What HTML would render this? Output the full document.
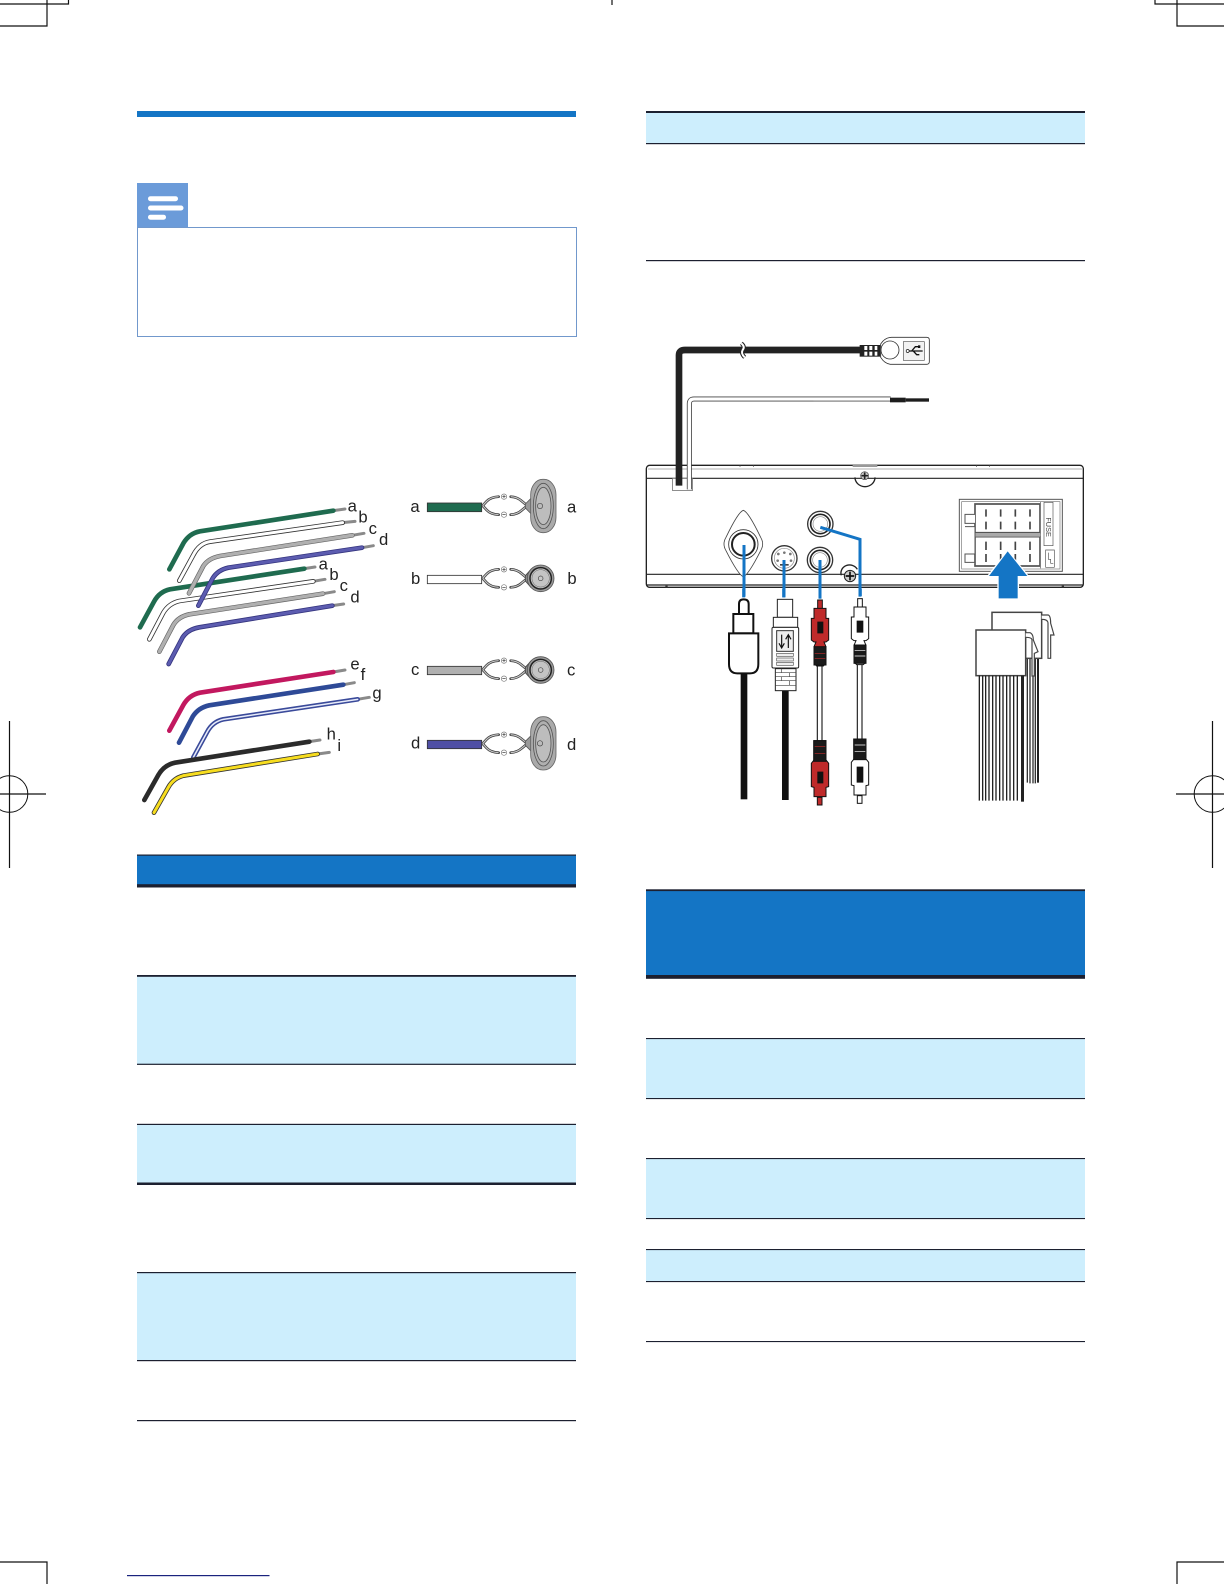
<!DOCTYPE html>
<html lang="en"><head><meta charset="utf-8"><title>Wiring diagram</title>
<style>html,body{margin:0;padding:0;background:#fff}svg{display:block;position:absolute;left:0;top:0}text{font-family:"Liberation Sans",sans-serif;fill:#222}</style></head><body>
<svg width="1224" height="1584" viewBox="0 0 1224 1584" xmlns="http://www.w3.org/2000/svg">
<defs>
<g id="yw">
<path d="M1088,0L1100,-13Q1112,-26 1136,-27M1088,0L1100,13Q1112,26 1136,27M1172,-27Q1192,-26 1205,-14L1222,0M1172,27Q1192,26 1205,14L1222,0" fill="none" stroke="#3a3a3a" stroke-width="8" stroke-linecap="round"/>
<path d="M1088,0L1100,-13Q1112,-26 1136,-27M1088,0L1100,13Q1112,26 1136,27M1172,-27Q1192,-26 1205,-14L1222,0M1172,27Q1192,26 1205,14L1222,0" fill="none" stroke="#c8c8c8" stroke-width="3.500"/>
<circle cx="1152" cy="-27" r="8" fill="#fff" stroke="#777" stroke-width="2"/><path d="M1147,-27h10M1152,-32v10" stroke="#333" stroke-width="2"/>
<circle cx="1152" cy="27" r="8" fill="#fff" stroke="#777" stroke-width="2"/><path d="M1147,27h10" stroke="#333" stroke-width="2"/>
</g>
<g id="spo">
<path d="M-54,-6L-30,-30V30L-54,6Z" fill="#999" stroke="#555" stroke-width="2.500"/>
<rect x="-38" y="-80" width="76" height="160" rx="36" ry="46" fill="#aaa" stroke="#666" stroke-width="2.500"/>
<ellipse cx="0" cy="0" rx="30" ry="68" fill="#b0b0b0" stroke="#555" stroke-width="2.500"/>
<ellipse cx="0" cy="0" rx="23" ry="56" fill="#bdbdbd" stroke="#555" stroke-width="2.500"/>
<circle cx="-10" cy="0" r="8" fill="#bbb" stroke="#444" stroke-width="2"/>
</g>
<g id="spr">
<path d="M-46,-8L-30,-26V26L-46,8Z" fill="#888" stroke="#444" stroke-width="2.500"/>
<circle r="40" fill="#999" stroke="#555" stroke-width="2.500"/>
<circle r="32" fill="#bdbdbd" stroke="#222" stroke-width="4.500"/>
<circle r="26" fill="#c4c4c4" stroke="#666" stroke-width="1.500"/>
<circle r="7" fill="#c8c8c8" stroke="#444" stroke-width="2"/>
</g>
<g id="rca-top">
<rect x="-7" y="30" width="14" height="26"/>
<path d="M-18,55H18V85H26V150L18,156H12L18,170V220L10,228H-10L-18,220V170L-12,156H-18L-26,150V85H-18Z"/>
</g>
</defs>

<!-- crop marks -->
<g stroke="#111" stroke-width="1.200" fill="none">
<path d="M0,4H68.500V0M47,0V26H0M612,0V5M1224,4H1155V0M1177,0V26H1224M0,1562H47V1584M1224,1562H1177V1584"/>
<path d="M9.500,721V868M0,794H46M1212.500,721V868M1176,794H1224"/>
<circle cx="9.500" cy="794" r="18.300" stroke-width="1"/><circle cx="1212.500" cy="794" r="18.300" stroke-width="1"/>
</g>
<rect x="127" y="1575" width="142.500" height="1.200" fill="#1a237e"/>

<!-- left heading + note -->
<rect x="137" y="111" width="439" height="6" fill="#1475c5"/>
<rect x="137" y="183" width="51" height="44.500" fill="#6b9bd9"/>
<rect x="148" y="196.200" width="30" height="5" rx="2.500" fill="#fff"/>
<rect x="148" y="205.500" width="35.500" height="5" rx="2.500" fill="#fff"/>
<rect x="148" y="214.700" width="18" height="5" rx="2.500" fill="#fff"/>
<rect x="137.500" y="227.500" width="439" height="109" fill="#fff" stroke="#7198cc" stroke-width="1"/>

<!-- left table -->
<rect x="137" y="855" width="439" height="30" fill="#1475c5"/>
<rect x="137" y="854.500" width="439" height="1.200" fill="#1c2030"/>
<rect x="137" y="884.200" width="439" height="3.300" fill="#1c2030"/>
<g fill="#cdeefd"><rect x="137" y="976" width="439" height="88"/><rect x="137" y="1124" width="439" height="59"/><rect x="137" y="1272" width="439" height="88"/></g>
<g fill="#1c2030"><rect x="137" y="975" width="439" height="1.800"/><rect x="137" y="1063.700" width="439" height="1.200"/><rect x="137" y="1123.800" width="439" height="1.200"/><rect x="137" y="1182.500" width="439" height="2.500"/><rect x="137" y="1272" width="439" height="1.200"/><rect x="137" y="1360" width="439" height="1.200"/><rect x="137" y="1420" width="439" height="1.200"/></g>

<!-- right top table -->
<rect x="646" y="113" width="439" height="30" fill="#cdeefd"/>
<rect x="646" y="111" width="439" height="2" fill="#1c2030"/>
<rect x="646" y="143" width="439" height="1.200" fill="#1c2030"/>
<rect x="646" y="260" width="439" height="1.200" fill="#1c2030"/>

<!-- right bottom table -->
<rect x="646" y="890" width="439" height="85" fill="#1475c5"/>
<rect x="646" y="889.300" width="439" height="1.800" fill="#1c2030"/>
<rect x="646" y="975" width="439" height="3.800" fill="#1c2030"/>
<g fill="#cdeefd"><rect x="646" y="1038" width="439" height="60"/><rect x="646" y="1158" width="439" height="60"/><rect x="646" y="1249" width="439" height="32"/></g>
<g fill="#1c2030"><rect x="646" y="1038" width="439" height="1.100"/><rect x="646" y="1098" width="439" height="1.100"/><rect x="646" y="1158" width="439" height="1.100"/><rect x="646" y="1218" width="439" height="1.100"/><rect x="646" y="1249" width="439" height="1.100"/><rect x="646" y="1281" width="439" height="1.100"/><rect x="646" y="1341" width="439" height="1.100"/></g>

<!-- left wires diagram -->
<g transform="translate(120,460) scale(.33333)">
<g fill="none" stroke-linecap="round" stroke-linejoin="round">
<!-- group 2 -->
<path d="M553,326L585,321M580,364L615,358M609,401L643,395M637,437L671,432" stroke="#8a8a8a" stroke-width="9"/>
<path d="M60,502L102,425Q118,395 150,388L553,326" stroke="#1f6b4f" stroke-width="14"/>
<path d="M88,538L130,458Q147,430 178,423L580,364" stroke="#333" stroke-width="14"/>
<path d="M88,538L130,458Q147,430 178,423L580,364" stroke="#fff" stroke-width="9"/>
<path d="M118,575L160,495Q175,470 208,463L609,401" stroke="#666" stroke-width="14"/>
<path d="M118,575L160,495Q175,470 208,463L609,401" stroke="#b0b0b0" stroke-width="10"/>
<path d="M146,612L188,532Q204,508 238,502L637,437" stroke="#35357f" stroke-width="14"/>
<path d="M146,612L188,532Q204,508 238,502L637,437" stroke="#5c5cb0" stroke-width="9"/>
<!-- group 1 -->
<path d="M640,152L675,147M668,188L705,184M697,226L732,220M726,263L760,257" stroke="#8a8a8a" stroke-width="9"/>
<path d="M148,328L190,250Q208,220 240,214L640,152" stroke="#1f6b4f" stroke-width="14"/>
<path d="M178,362L220,285Q238,250 270,245L668,188" stroke="#333" stroke-width="14"/>
<path d="M178,362L220,285Q238,250 270,245L668,188" stroke="#fff" stroke-width="9"/>
<path d="M207,400L250,318Q265,295 300,288L697,226" stroke="#666" stroke-width="14"/>
<path d="M207,400L250,318Q265,295 300,288L697,226" stroke="#b0b0b0" stroke-width="10"/>
<path d="M235,437L278,355Q293,330 325,323L726,263" stroke="#35357f" stroke-width="14"/>
<path d="M235,437L278,355Q293,330 325,323L726,263" stroke="#5c5cb0" stroke-width="9"/>
<!-- group 3 -->
<path d="M640,636L675,630M670,674L703,668M713,718L748,712M568,845L600,840M593,882L628,877" stroke="#8a8a8a" stroke-width="9"/>
<path d="M148,812L190,735Q207,705 240,698L640,636" stroke="#c2185f" stroke-width="14"/>
<path d="M177,848L218,770Q235,743 268,736L670,674" stroke="#2e4a97" stroke-width="14"/>
<path d="M220,892L262,815Q278,785 310,778L713,718" stroke="#3a4a9a" stroke-width="14"/>
<path d="M220,892L262,815Q278,785 310,778L713,718" stroke="#e8ecfa" stroke-width="4.500"/>
<path d="M73,1020L115,945Q132,915 165,908L568,845" stroke="#2b2b2b" stroke-width="14"/>
<path d="M102,1058L145,982Q160,955 190,947L593,882" stroke="#333" stroke-width="14"/>
<path d="M102,1058L145,982Q160,955 190,947L593,882" stroke="#f7dd1f" stroke-width="9"/>
</g>
<g font-size="50">
<text x="683" y="155">a</text><text x="715" y="188">b</text><text x="746" y="222">c</text><text x="777" y="255">d</text>
<text x="596" y="328">a</text><text x="628" y="360">b</text><text x="659" y="393">c</text><text x="691" y="427">d</text>
<text x="691" y="628">e</text><text x="722" y="660">f</text><text x="757" y="716">g</text><text x="620" y="839">h</text><text x="652" y="873">i</text>
<text x="871" y="156">a</text><text x="873" y="372">b</text><text x="873" y="645">c</text><text x="873" y="866">d</text>
<text x="1341" y="158">a</text><text x="1342" y="372">b</text><text x="1341" y="647">c</text><text x="1341" y="870">d</text>
</g>
<g stroke-width="2.500" stroke="#333">
<rect x="922" y="129" width="163" height="26" fill="#1f6b4f"/>
<rect x="922" y="346" width="163" height="25" fill="#fff"/>
<rect x="922" y="619" width="163" height="25" fill="#b0b0b0"/>
<rect x="922" y="841" width="163" height="25" fill="#4f4fa5"/>
</g>
<use href="#yw" transform="translate(0,137)"/><use href="#yw" transform="translate(0,355)"/><use href="#yw" transform="translate(0,629)"/><use href="#yw" transform="translate(0,851)"/>
<use href="#spo" transform="translate(1270,138)"/><use href="#spo" transform="translate(1270,850)"/>
<use href="#spr" transform="translate(1262,355)"/><use href="#spr" transform="translate(1262,630)"/>
</g>

<!-- head unit diagram -->
<g transform="translate(640,330) scale(.33333)">
<rect x="19" y="406" width="1311" height="366" rx="10" fill="#fff" stroke="#222" stroke-width="4"/>
<path d="M20,445H1329M20,733H1329M20,765H1329" stroke="#222" stroke-width="3.500" fill="none"/>
<path d="M24,417H1326" stroke="#999" stroke-width="2" fill="none"/>
<path d="M300,406v5M340,406v5M1010,406v5M1048,406v5" stroke="#555" stroke-width="2"/>
<rect x="638" y="405" width="74" height="6" fill="#999"/>
<rect x="76" y="767" width="7" height="6" fill="#333"/><rect x="1265" y="767" width="7" height="6" fill="#333"/>
<path d="M645,442A30,28 0 0 0 705,442" fill="none" stroke="#222" stroke-width="4"/>
<circle cx="674" cy="437" r="12" fill="#ccc" stroke="#444" stroke-width="2"/><path d="M664,437h20M674,427v20" stroke="#222" stroke-width="5"/>
<rect x="97" y="445" width="61" height="36" fill="#fff" stroke="#555" stroke-width="2"/>
<!-- cables -->
<path d="M117,467V75Q117,60 135,60H662" fill="none" stroke="#222" stroke-width="20"/>
<path d="M148,478V222Q148,207 162,207H752" fill="none" stroke="#444" stroke-width="15"/>
<path d="M148,478V222Q148,207 162,207H752" fill="none" stroke="#fff" stroke-width="10"/>
<path d="M520,214H752" stroke="#999" stroke-width="3"/>
<rect x="750" y="203" width="47" height="14" fill="#1d1d1d"/><rect x="797" y="205" width="70" height="10" fill="#1d1d1d"/>
<path d="M304,40Q316,50 308,60Q302,70 314,82" fill="none" stroke="#222" stroke-width="12"/>
<path d="M304,40Q316,50 308,60Q302,70 314,82" fill="none" stroke="#fff" stroke-width="6"/>
<rect x="659" y="45" width="62" height="35" fill="#222"/>
<g fill="#fff"><rect x="673" y="48" width="9" height="12"/><rect x="688" y="48" width="9" height="12"/><rect x="673" y="65" width="9" height="12"/><rect x="688" y="65" width="9" height="12"/><rect x="704" y="48" width="8" height="12"/><rect x="704" y="65" width="8" height="12"/></g>
<path d="M722,42Q735,22 755,22H860Q868,22 868,30V95Q868,103 860,103H755Q735,103 722,82Z" fill="#fff" stroke="#333" stroke-width="2.500"/>
<circle cx="750" cy="60" r="27" fill="#fff" stroke="#333" stroke-width="2.500"/>
<rect x="790" y="35" width="63" height="56" fill="#f2f2f2" stroke="#555" stroke-width="2"/>
<path d="M803,63H848M815,63L826,50H838M820,63L830,74H838" fill="none" stroke="#111" stroke-width="4"/>
<rect x="834" y="46" width="7" height="8" fill="#111"/><circle cx="803" cy="63" r="4.500" fill="#fff" stroke="#111" stroke-width="2"/>
<!-- ports -->
<path d="M310,541Q325,545 362,622Q374,642 362,662Q325,735 310,740Q295,735 258,662Q246,642 258,622Q295,545 310,541Z" fill="#fff" stroke="#444" stroke-width="2.500"/>
<circle cx="310" cy="643" r="44" fill="#fff" stroke="#333" stroke-width="2.500"/><circle cx="310" cy="643" r="34" fill="#fff" stroke="#222" stroke-width="6"/>
<circle cx="433" cy="685" r="38" fill="#fff" stroke="#333" stroke-width="4"/><circle cx="433" cy="685" r="30" fill="#fff" stroke="#888" stroke-width="2"/>
<g fill="#777"><circle cx="415" cy="672" r="4"/><circle cx="433" cy="668" r="4"/><circle cx="451" cy="672" r="4"/><circle cx="413" cy="692" r="4"/><circle cx="453" cy="692" r="4"/></g>
<rect x="420" y="702" width="26" height="5" fill="#444"/>
<circle cx="541" cy="582" r="38" fill="#fff" stroke="#333" stroke-width="4"/><circle cx="541" cy="582" r="29" fill="#fff" stroke="#222" stroke-width="5"/><circle cx="541" cy="582" r="22" fill="#fff" stroke="#888" stroke-width="2"/>
<circle cx="540" cy="690" r="38" fill="#fff" stroke="#333" stroke-width="4"/><circle cx="540" cy="690" r="29" fill="#fff" stroke="#222" stroke-width="5"/><circle cx="540" cy="690" r="22" fill="#fff" stroke="#888" stroke-width="2"/>
<path d="M604,736A26,24 0 0 1 652,718" fill="none" stroke="#222" stroke-width="4"/>
<circle cx="630" cy="738" r="17" fill="#ccc" stroke="#222" stroke-width="3"/><path d="M617,738h26M630,725v26" stroke="#111" stroke-width="5"/>
<!-- iso block -->
<rect x="958" y="508" width="309" height="216" fill="#fff" stroke="#555" stroke-width="3"/>
<rect x="965" y="515" width="295" height="202" fill="#fff" stroke="#777" stroke-width="2"/>
<path d="M1005,522H1200V608H1005ZM1005,620H1200V708H1005Z" fill="#fff" stroke="#555" stroke-width="5"/>
<rect x="1005" y="609" width="196" height="11" fill="#aaa"/>
<path d="M1005,522V553H975V580H1005M975,590H1005V672H975V697H1005V708" fill="#fff" stroke="#555" stroke-width="3"/>
<rect x="1200" y="515" width="2.500" height="200" fill="#777"/>
<g stroke="#444" stroke-width="5"><path d="M1038,538v22M1082,538v22M1126,538v22M1170,538v22M1038,575v23M1082,575v23M1126,575v23M1170,575v23M1038,635v25M1082,635v25M1126,635v25M1170,635v25M1038,672v24M1082,672v24M1126,672v24M1170,672v24"/></g>
<rect x="1212" y="517" width="27" height="130" fill="#fff" stroke="#555" stroke-width="2"/>
<text transform="translate(1218,562) rotate(90)" font-size="22" style="fill:#444">FUSE</text>
<path d="M1217,660H1243V712H1217ZM1225,668V688H1232V700H1240" fill="#fff" stroke="#555" stroke-width="2"/>
<!-- arrow -->
<path d="M1103,664L1164,739H1134V805H1075V739H1044Z" fill="#fff" stroke="#fff" stroke-width="6"/>
<path d="M1103,664L1162,738H1133V805H1076V738H1047Z" fill="#1475c5"/>
<!-- blue leaders -->
<g fill="none" stroke="#1475c5" stroke-width="9">
<path d="M312,645V800"/><path d="M432,690V802"/><path d="M540,690V806"/><path d="M541,592L660,628V800"/>
</g>
</g>

<!-- plugs -->
<g transform="translate(700,590) scale(.33333)">
<path d="M131,-4V22M251,-4V22M360,-4V24M481,-4V18" stroke="#1475c5" stroke-width="9" fill="none"/>
<!-- optical -->
<rect x="122" y="248" width="20" height="380" fill="#111"/>
<path d="M117,72V42Q117,28 131,28Q146,28 146,42V72" fill="#fff" stroke="#111" stroke-width="6"/>
<rect x="100" y="72" width="60" height="58" fill="#fff" stroke="#111" stroke-width="6"/>
<path d="M87,130H175V222Q175,250 150,250H112Q87,250 87,222Z" fill="#fff" stroke="#111" stroke-width="6"/>
<!-- s-video -->
<rect x="246" y="300" width="20" height="330" fill="#111"/>
<rect x="232" y="28" width="46" height="54" fill="#fff" stroke="#222" stroke-width="3"/>
<rect x="220" y="82" width="73" height="30" fill="#fff" stroke="#222" stroke-width="3"/>
<rect x="216" y="112" width="80" height="122" rx="4" fill="#fff" stroke="#222" stroke-width="3"/>
<rect x="230" y="122" width="50" height="62" fill="#eee" stroke="#333" stroke-width="3"/>
<path d="M245,134V172M237,160L245,174L253,160M265,174V134M257,148L265,134L273,148" fill="none" stroke="#111" stroke-width="3.500"/>
<rect x="230" y="190" width="50" height="9" fill="#eee" stroke="#555" stroke-width="2"/><rect x="230" y="204" width="50" height="9" fill="#eee" stroke="#555" stroke-width="2"/><rect x="230" y="217" width="50" height="9" fill="#eee" stroke="#555" stroke-width="2"/>
<rect x="226" y="236" width="62" height="66" fill="#fff" stroke="#222" stroke-width="3"/>
<path d="M226,248H288M226,260H288M226,272H288M226,286H288M244,236V248M268,248V260M244,260V272M268,272V286" stroke="#444" stroke-width="2" fill="none"/>
<!-- cords -->
<rect x="352" y="225" width="14" height="228" fill="#fff" stroke="#222" stroke-width="3.500"/>
<rect x="472" y="220" width="14" height="228" fill="#fff" stroke="#222" stroke-width="3.500"/>
<!-- red RCA -->
<g fill="#bf2a2a" stroke="#111" stroke-width="3">
<use href="#rca-top" transform="translate(360,0)"/>
<rect x="342" y="170" width="36" height="55" fill="#1a1a1a"/>
<rect x="352" y="622" width="14" height="23"/>
<path d="M342,452H378V510L386,520V590L378,592V620H342V592L334,590V520L342,510Z"/>
<rect x="341" y="452" width="37" height="62" fill="#1a1a1a"/>
</g>
<path d="M352,95H370V130H352ZM352,545H370V580H352Z" fill="#111"/>
<path d="M344,190H376M344,205H376M344,470H376M344,490H376" stroke="#bf2a2a" stroke-width="2"/>
<!-- white RCA -->
<g fill="#fff" stroke="#111" stroke-width="3">
<use href="#rca-top" transform="translate(480,-4)"/>
<rect x="462" y="165" width="36" height="55" fill="#1a1a1a"/>
<rect x="472" y="617" width="14" height="23"/>
<path d="M462,447H498V507L506,517V585L498,587V615H462V587L454,585V517L462,507Z"/>
<rect x="461" y="447" width="37" height="62" fill="#1a1a1a"/>
</g>
<path d="M470,92H490V128H470ZM470,530H490V578H470Z" fill="#111"/>
<path d="M464,182H496M464,198H496M464,465H496M464,485H496" stroke="#fff" stroke-width="2"/>
<!-- harness -->
<g stroke="#333" fill="none" stroke-width="4">
<path d="M982,205V578M990,205V580M999,205V580M1006,205V580"/>
<rect x="1011" y="205" width="6" height="373" fill="#222" stroke="none"/>
</g>
<rect x="876" y="67" width="149" height="138" fill="#fff" stroke="#444" stroke-width="4.500"/>
<path d="M1025,75H1045Q1052,78 1052,100L1062,135L1052,135V205H1044V100Q1044,88 1025,88" fill="#fff" stroke="#444" stroke-width="3.500"/>
<rect x="828" y="120" width="149" height="137" fill="#fff" stroke="#444" stroke-width="4.500"/>
<path d="M977,128H990Q1000,132 1000,150L1014,185L1003,190V258H996V150Q996,142 977,142" fill="#fff" stroke="#444" stroke-width="3.500"/>
<g stroke="#222" stroke-width="4" fill="none"><path d="M838,257V632M848,257V632M857,257V632M867,257V632M878,257V632M888,257V632M899,257V632M909,257V632M920,257V632M930,257V632M941,257V632M952,257V632"/></g>
<rect x="963" y="257" width="9" height="378" fill="#222"/>
</g>
</svg>
</body></html>
